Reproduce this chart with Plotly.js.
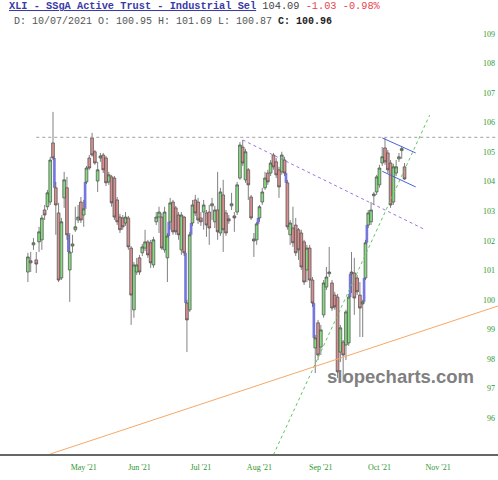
<!DOCTYPE html>
<html>
<head>
<meta charset="utf-8">
<script src="https://cdn.plot.ly/plotly-3.0.1.min.js"></script>
<style>html,body{margin:0;padding:0;background:#fff;}#chart{width:498px;height:480px;}</style>
</head>
<body>
<div id="chart"></div>
<script>
const days = [
'04-05','04-06','04-07','04-08','04-09','04-12','04-13','04-14','04-15','04-16',
'04-19','04-20','04-21','04-22','04-23','04-26','04-27','04-28','04-29','04-30',
'05-03','05-04','05-05','05-06','05-07','05-10','05-11','05-12','05-13','05-14',
'05-17','05-18','05-19','05-20','05-21','05-24','05-25','05-26','05-27','05-28',
'06-01','06-02','06-03','06-04','06-07','06-08','06-09','06-10','06-11','06-14',
'06-15','06-16','06-17','06-18','06-21','06-22','06-23','06-24','06-25','06-28',
'06-29','06-30','07-01','07-02','07-06','07-07','07-08','07-09','07-12','07-13',
'07-14','07-15','07-16','07-19','07-20','07-21','07-22','07-23','07-26','07-27',
'07-28','07-29','07-30','08-02','08-03','08-04','08-05','08-06','08-09','08-10',
'08-11','08-12','08-13','08-16','08-17','08-18','08-19','08-20','08-23','08-24',
'08-25','08-26','08-27','08-30','08-31','09-01','09-02','09-03','09-07','09-08',
'09-09','09-10','09-13','09-14','09-15','09-16','09-17','09-20','09-21','09-22',
'09-23','09-24','09-27','09-28','09-29','09-30','10-01','10-04','10-05','10-06',
'10-07','10-08','10-11','10-12','10-13','10-14'];
const dates = days.map(d => '2021-' + d);

const open = [
100.94,101.32,101.86,101.35,101.96,102.03,103.04,103.15,103.31,105.31,
103.79,102.94,100.74,103.45,103.79,101.01,101.82,102.37,102.70,103.31,
102.87,103.99,104.80,105.48,105.01,104.02,104.80,104.90,104.80,103.99,
104.16,104.12,103.38,102.80,102.77,102.60,102.77,101.75,99.66,100.94,
101.42,101.59,101.75,101.96,101.93,101.18,102.64,102.80,102.80,101.69,
101.42,102.64,103.31,103.11,102.87,101.69,102.80,99.89,99.66,102.60,
103.38,103.31,102.77,102.97,102.94,102.97,103.18,102.64,103.04,102.26,
103.55,102.94,102.74,103.18,102.84,102.97,104.12,105.17,104.06,104.40,
103.48,102.06,102.03,102.77,103.31,103.79,104.29,104.29,104.90,104.67,
104.40,104.33,104.73,103.96,102.20,102.43,102.53,102.37,102.26,101.96,
101.01,101.75,100.67,98.37,99.22,98.40,99.49,100.43,100.88,100.57,
100.16,100.09,98.23,98.57,98.47,98.54,100.88,100.91,100.74,100.16,
99.86,100.74,102.53,102.64,103.52,103.65,103.89,104.63,105.14,104.97,
104.63,103.31,104.29,104.77,105.05,104.50];
const high = [
101.59,101.62,102.09,101.62,102.47,102.87,103.21,103.72,104.84,106.36,
103.99,103.28,102.77,104.33,104.16,102.26,102.20,103.15,103.21,103.48,
103.38,104.53,104.90,105.65,105.07,104.67,104.97,104.97,104.87,104.33,
104.23,104.19,103.48,102.91,102.87,102.97,102.84,101.82,101.28,101.42,
101.52,101.89,102.37,102.03,102.03,102.13,102.97,103.15,102.94,103.15,
102.26,103.45,103.38,103.18,102.97,102.97,102.84,100.00,102.30,103.38,
103.55,103.45,102.97,103.38,103.04,103.21,103.45,103.18,104.33,103.79,
104.06,103.04,102.87,103.62,102.97,103.99,105.34,105.41,105.11,104.46,
103.55,102.26,102.64,103.21,103.79,104.33,104.40,104.73,104.97,104.80,
104.50,105.01,104.84,104.06,102.70,103.15,102.77,102.43,102.37,102.03,
101.86,101.86,100.77,98.81,99.32,99.15,100.67,101.11,101.79,100.67,
100.27,100.20,99.15,98.64,99.66,100.20,101.62,101.42,100.84,100.60,
100.00,102.03,103.04,103.31,103.65,104.23,104.57,105.17,105.48,105.07,
104.73,104.60,104.73,104.97,105.21,104.63];
const low = [
100.60,100.94,101.69,100.91,101.62,101.69,102.70,103.04,103.21,104.73,
102.20,100.60,100.67,103.11,102.03,99.93,101.59,102.30,102.60,102.60,
102.47,103.92,104.40,104.84,104.57,103.65,104.67,104.29,103.85,103.89,
103.15,102.70,102.53,102.26,102.37,102.50,101.69,99.15,99.39,100.84,
100.84,101.48,101.65,101.42,101.08,101.08,102.53,102.26,101.69,101.59,
100.60,102.37,102.20,102.20,102.03,101.52,101.48,98.23,99.59,102.50,
102.84,102.57,102.50,102.37,102.13,101.86,102.70,102.43,102.03,102.16,
101.62,102.16,102.57,103.04,102.30,102.87,104.06,104.53,103.96,103.38,
102.70,101.45,101.86,102.64,103.21,103.72,103.89,104.19,104.40,104.12,
103.45,104.23,104.19,102.37,101.86,101.79,101.48,101.35,101.01,100.50,
100.60,100.40,99.76,97.52,97.96,98.13,99.39,100.33,100.77,99.62,
99.66,97.35,97.89,97.22,97.96,98.44,100.23,99.49,100.16,98.74,
98.74,100.67,102.43,102.53,103.21,103.55,103.79,104.53,104.57,104.29,
103.11,103.21,104.19,104.67,104.77,104.06];
const close = [
101.45,101.25,101.93,101.21,102.30,102.77,102.87,103.62,104.73,104.80,
103.21,100.67,102.64,104.06,102.20,101.62,101.89,102.47,102.80,102.70,
103.08,104.46,104.46,104.90,104.63,104.40,104.87,104.40,103.96,104.23,
103.28,102.80,102.64,102.37,102.47,102.80,101.79,100.16,101.18,101.18,
100.94,101.79,101.96,101.52,101.25,102.03,102.80,102.97,101.75,102.97,
102.16,103.28,102.30,102.30,102.20,102.87,101.59,99.32,102.20,103.21,
102.94,102.70,102.64,103.21,102.53,102.43,103.25,103.04,102.30,103.65,
102.37,102.26,102.67,103.25,102.77,103.89,105.24,104.63,105.01,103.89,
102.77,101.99,102.57,103.15,103.65,104.12,103.99,104.63,104.50,104.23,
103.82,104.90,104.29,102.47,102.60,101.93,101.59,101.69,101.11,100.60,
101.75,100.67,99.89,98.71,98.13,98.98,100.57,100.77,100.94,99.72,
99.76,97.56,99.05,98.13,99.59,100.09,100.94,100.06,100.27,99.72,
99.93,101.93,102.94,103.04,103.58,104.16,104.46,104.84,104.67,104.40,
103.21,104.50,104.50,104.84,105.12,104.09];

// candles that opened with a body gap (marked in blue)
const gapIdx = [10, 15, 21, 51, 57, 59, 83, 93, 103, 116, 121, 122];

const tickDates = ['2021-05-03','2021-06-01','2021-07-01','2021-08-02','2021-09-01','2021-10-01','2021-11-01'];
const tickLabels = ["May '21","Jun '21","Jul '21","Aug '21","Sep '21","Oct '21","Nov '21"];
const yTicks = [96,97,98,99,100,101,102,103,104,105,106,107,108,109];

// drawn study lines
const resistLevel = 105.5, resistStart = '2021-04-08', resistEnd = '2021-11-30 12:00';
const purpleX = ['2021-07-23','2021-10-25'], purpleY = [105.41, 102.39];
const greenX = ['2021-08-09','2021-10-27'], greenY = [94.75, 106.25];
const orangeX = ['2021-04-15','2021-11-30 12:00'], orangeY = [94.78, 99.79];
const chanX = ['2021-10-04','2021-10-20'], chanUpY = [105.48, 104.97], chanLoY = [104.35, 103.82];

// gap rectangles between consecutive bodies
const gapX = [], gapBase = [], gapH = [];
gapIdx.forEach(i => {
  const pLo = Math.min(open[i-1], close[i-1]), pHi = Math.max(open[i-1], close[i-1]);
  const cLo = Math.min(open[i], close[i]), cHi = Math.max(open[i], close[i]);
  let a, b;
  if (cHi < pLo) { a = cHi; b = pLo; } else { a = pHi; b = cLo; }
  gapX.push(dates[i-1] + ' 12:00');
  gapBase.push(a); gapH.push(b - a);
});

const traces = [
  {type:'bar', x:gapX, y:gapH, base:gapBase, width:0.95*86400000,
   marker:{color:'#7676e0', line:{width:0}}, hoverinfo:'skip'},
  {type:'candlestick', x:dates, open:open, high:high, low:low, close:close,
   increasing:{fillcolor:'#86da82', line:{color:'#4a4a4a', width:0.7}},
   decreasing:{fillcolor:'#d88f8f', line:{color:'#4a4a4a', width:0.7}},
   whiskerwidth:0, hoverinfo:'skip'}
];

const lineShape = (x, y, color, dash) => ({type:'line', xref:'x', yref:'y',
  x0:x[0], y0:y[0], x1:x[1], y1:y[1], line:{color:color, width:1, dash:dash}});

const shapes = [
  {type:'line', xref:'x', yref:'y', x0:resistStart, x1:resistEnd, y0:resistLevel, y1:resistLevel,
   line:{color:'#a0a0a0', width:1, dash:'dot'}},
  lineShape(purpleX, purpleY, '#a070e0', 'dot'),
  lineShape(greenX, greenY, '#5cc85c', 'dot'),
  lineShape(orangeX, orangeY, '#f5a868', 'solid'),
  lineShape(chanX, chanUpY, '#4a64d8', 'solid'),
  lineShape(chanX, chanLoY, '#4a64d8', 'solid')
];

const tickFont = {family:'Liberation Serif', size:8, color:'#2f962f'};

const layout = {
  width:498, height:480,
  margin:{l:0, r:0, t:28, b:26, pad:0},
  paper_bgcolor:'#fff', plot_bgcolor:'#fff',
  showlegend:false, hovermode:false, barmode:'overlay',
  boxmode:'overlay', boxgap:0.02, boxgroupgap:0,
  xaxis:{type:'date', range:['2021-03-22','2021-11-30 12:00'],
    rangebreaks:[{bounds:['sat','mon']}, {values:['2021-05-31','2021-07-05','2021-09-06']}],
    rangeslider:{visible:false}, tickmode:'array', tickvals:tickDates, ticktext:tickLabels,
    tickfont:tickFont, showgrid:false, zeroline:false, showline:true, linecolor:'#666', linewidth:2,
    ticks:'outside', ticklen:4, tickcolor:'rgba(0,0,0,0)', fixedrange:true},
  yaxis:{side:'right', range:[94.78, 109.2], tickmode:'array', tickvals:yTicks,
    ticklabelposition:'inside', tickfont:tickFont, showgrid:false, zeroline:false, showline:false,
    ticks:'', fixedrange:true},
  shapes:shapes,
  annotations:[
    {xref:'paper', yref:'paper', x:7/498, y:1.0505, xanchor:'left', yanchor:'middle', showarrow:false,
     font:{family:'Liberation Mono', size:10.3, color:'#3a3aa8'},
     text:'<u><b>XLI - SSgA Active Trust - Industrial Sel</b></u> <span style="color:#444">104.09</span> <span style="color:#e8434b">-1.03 -0.98%</span>'},
    {xref:'paper', yref:'paper', x:12/498, y:1.0153, xanchor:'left', yanchor:'middle', showarrow:false,
     font:{family:'Liberation Mono', size:10, color:'#555'},
     text:'D: 10/07/2021 O: 100.95 H: 101.69 L: 100.87 <b style="color:#222">C: 100.96</b>'},
    {xref:'paper', yref:'paper', x:400/498, y:(454-376)/426, xanchor:'center', yanchor:'middle', showarrow:false,
     font:{family:'Liberation Sans', size:18.5, color:'#808080'},
     text:'<b>slopecharts.com</b>'}
  ]
};

Plotly.newPlot('chart', traces, layout, {staticPlot:true, displayModeBar:false});
</script>
</body>
</html>
